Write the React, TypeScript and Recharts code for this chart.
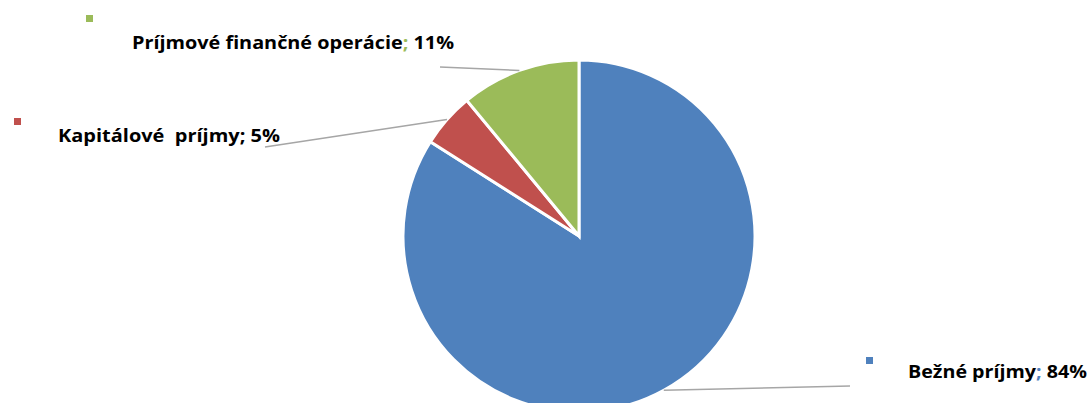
import { PieChart, Pie, Cell } from "recharts";

const categories = ["Bežné príjmy", "Kapitálové  príjmy", "Príjmové finančné operácie"];
const shares = [84, 5, 11];
const colors = ["#4F81BD", "#C0504D", "#9BBB59"];
const separatorColors = ["#4F81BD", "#000000", "#9BBB59"];

// where each label sits (leader end, legend square, text start, text width)
const labelLayout = [
  { end: [850, 386], square: [866, 357], text: [908, 378], width: 179 },
  { end: [265, 147], square: [14, 118], text: [58, 142], width: 222 },
  { end: [440, 67], square: [86, 15], text: [132, 49], width: 322 },
];

const data = categories.map((name, i) => ({ name, value: shares[i] }));

const RADIAN = Math.PI / 180;

function renderLabel(props: any) {
  const { cx, cy, midAngle, outerRadius, index } = props;
  const lay = labelLayout[index];
  const sx = cx + outerRadius * Math.cos(-midAngle * RADIAN);
  const sy = cy + outerRadius * Math.sin(-midAngle * RADIAN);
  return (
    <g key={`lbl-${index}`}>
      <line x1={sx} y1={sy} x2={lay.end[0]} y2={lay.end[1]} stroke="#A6A6A6" strokeWidth={1.5} />
      <rect x={lay.square[0]} y={lay.square[1]} width={7} height={7} fill={colors[index]} />
      <text
        x={lay.text[0]}
        y={lay.text[1]}
        fontFamily="'Open Sans', Lato, sans-serif"
        fontWeight="bold"
        fontSize={17}
        fill="#000"
        textLength={lay.width}
        lengthAdjust="spacingAndGlyphs"
        style={{ whiteSpace: "pre" }}
      >
        {categories[index]}
        <tspan fill={separatorColors[index]}>;</tspan>
        {` ${shares[index]}%`}
      </text>
    </g>
  );
}

export default function App() {
  return (
    <div style={{ position: "absolute", left: 0, top: 0, width: 1091, height: 403, background: "#fff" }}>
      <PieChart width={1091} height={403} margin={{ top: 0, right: 0, bottom: 0, left: 0 }}>
        <Pie
          data={data}
          dataKey="value"
          nameKey="name"
          cx={579}
          cy={236}
          outerRadius={176}
          startAngle={90}
          endAngle={-270}
          stroke="#fff"
          strokeWidth={3}
          label={renderLabel}
          labelLine={false}
          isAnimationActive={false}
        >
          {data.map((d, i) => (
            <Cell key={d.name} fill={colors[i]} />
          ))}
        </Pie>
      </PieChart>
    </div>
  );
}
